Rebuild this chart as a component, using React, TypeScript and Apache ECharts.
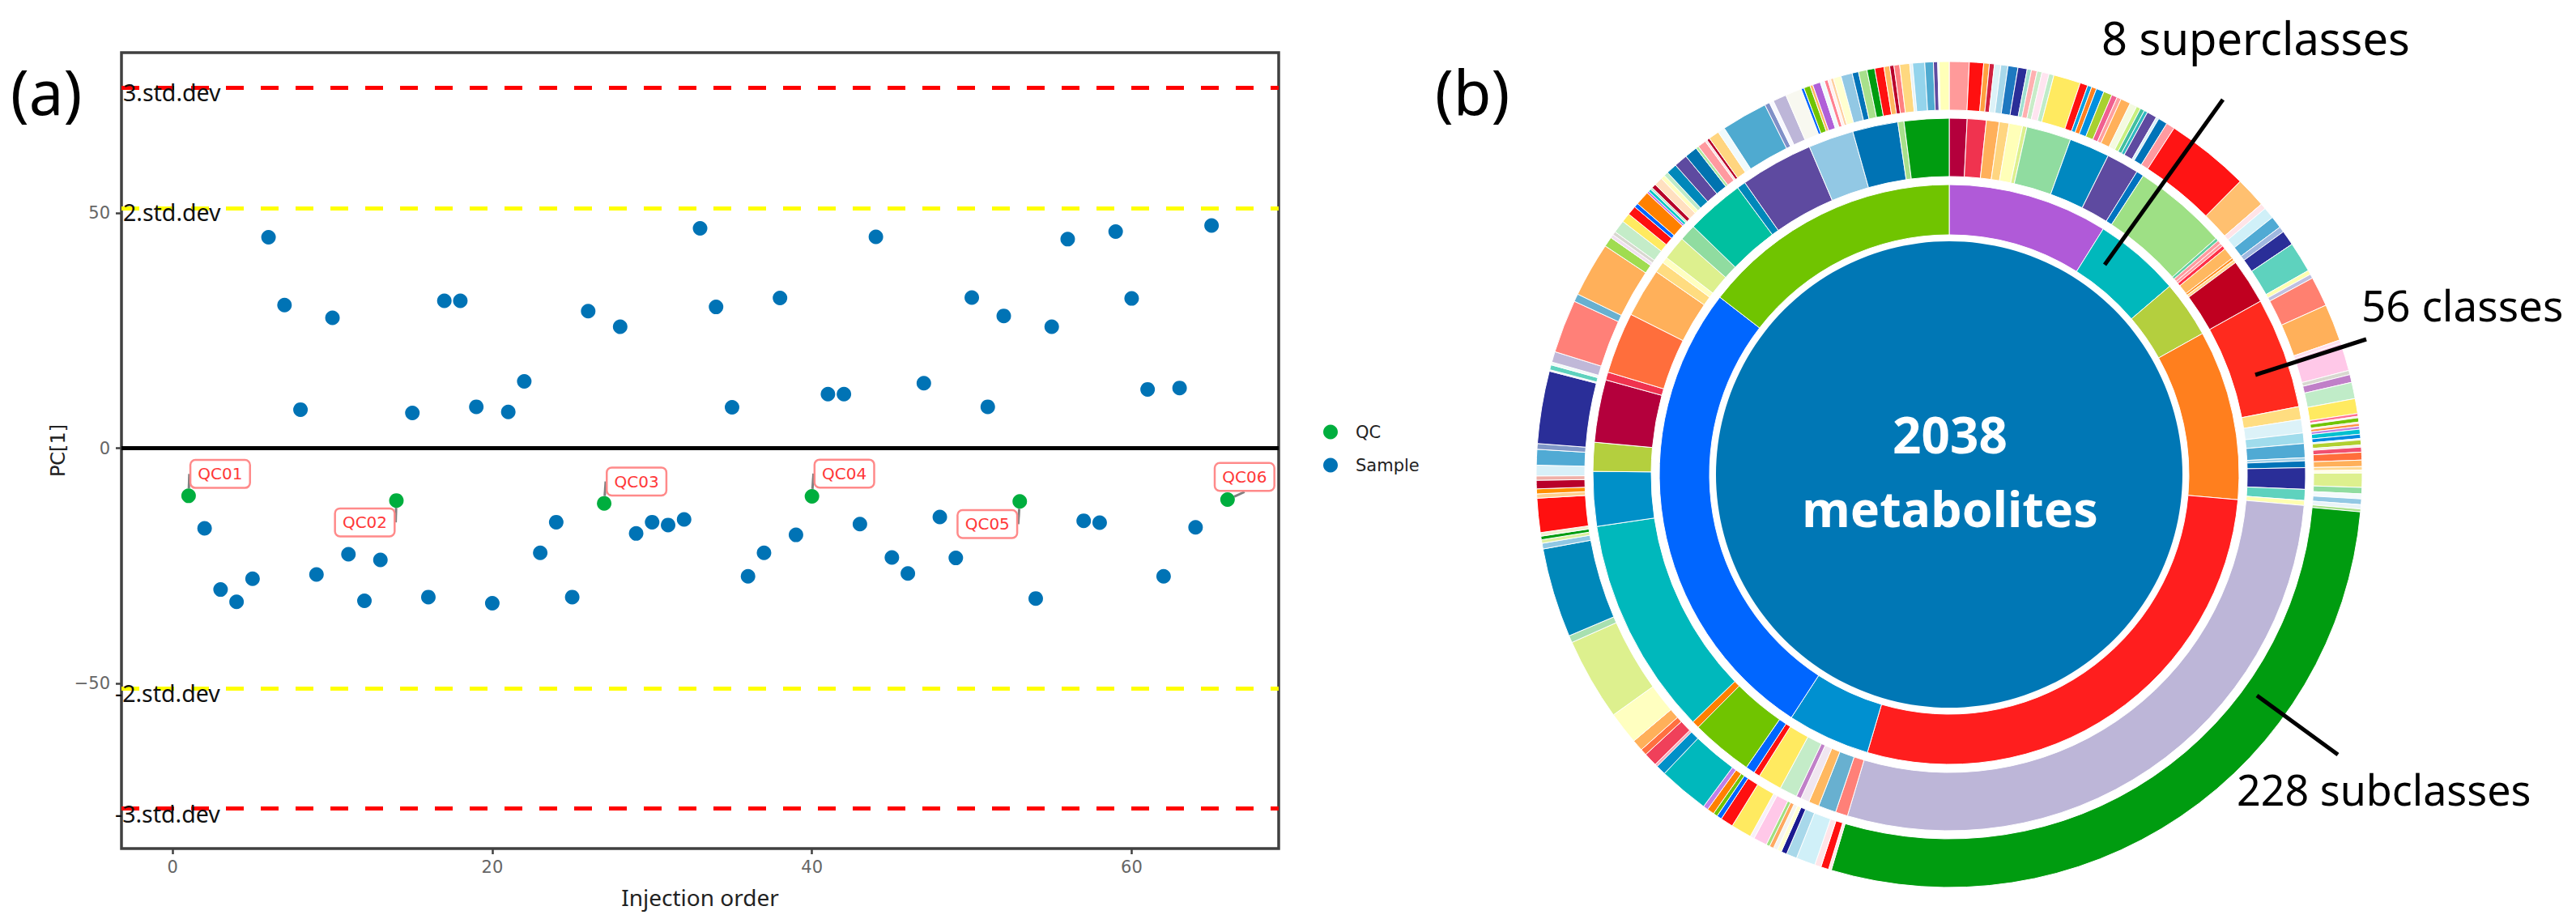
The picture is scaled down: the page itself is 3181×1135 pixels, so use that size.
import React, { useEffect, useRef } from "react";
import * as echarts from "echarts";

const sampleOrder = [2,3,4,5,6,7,8,9,10,11,12,13,15,16,17,18,19,20,21,22,23,24,25,26,28,29,30,31,32,33,34,35,36,37,38,39,41,42,43,44,45,46,47,48,49,50,51,52,54,55,56,57,58,59,60,61,62,63,64,65];
const sampleValues = [-17.0,-30.0,-32.6,-27.7,44.8,30.4,8.2,-26.8,27.7,-22.5,-32.4,-23.7,7.5,-31.6,31.3,31.3,8.8,-32.9,7.7,14.2,-22.2,-15.7,-31.6,29.1,25.8,-18.1,-15.7,-16.3,-15.1,46.7,30.0,8.7,-27.2,-22.2,31.9,-18.4,11.5,11.5,-16.1,44.9,-23.2,-26.6,13.8,-14.6,-23.3,32.0,8.8,28.1,-31.9,25.8,44.4,-15.4,-15.8,46.0,31.8,12.5,-27.2,12.8,-16.8,47.3];
const qcOrder = [1,14,27,40,53,66];
const qcValues = [-10.1,-11.1,-11.7,-10.2,-11.3,-10.9];
const qcNames = ["QC01","QC02","QC03","QC04","QC05","QC06"];
const qcLabelShift = [[39,-27],[-39,27],[40,-27],[40,-28],[-40,28],[21,-28]];

const limitValues = [76.5,51,-51,-76.5];
const limitColors = ["#ff0000","#ffff00","#ffff00","#ff0000"];
const limitNames = ["3.std.dev","2.std.dev","-2.std.dev","-3.std.dev"];
const limitLabelShift = [[0,5],[0,5],[-10,6],[-10,6]];
const limitLabelX = -3.1;
const xTicks = [0,20,40,60];
const yTicks = [-50,0,50];

const superclassEnds = [32.1,49.5,60.9,95,196.4,213,307.7,360];
const superclassColors = ["#B05AD8","#00B8BC","#B4CF3E","#FF7F1E","#FF1E1E","#0090D0","#0066FF","#70C400"];

const classEnds = [2.9,6,8.1,9.7,11.9,12.6,19.9,26.5,31.8,33,
  48.5,49,49.6,50.1,50.7,52.6,53,53.5,60.9,79,
  81.1,83.3,85,87.3,87.8,88.9,92.4,94.2,95,196.6,
  198.6,201.5,203.2,204.6,205.4,208.3,212.2,213.2,214.7,224.8,
  226,261.6,270.5,275.2,285.4,286.7,296.7,304.7,306.5,307.5,
  311.4,314.1,323.6,325,336.9,344.3,351.7,352.7,360];
const classColors = ["#B4003C","#F0334F","#FFB05A","#FFD580","#FFFFB8","#DDF08E","#90DCA0","#0088C0","#5E4AA0","#0073C0",
  "#9EE085","#60D0A0","#FF9AA0","#FF9AA0","#FF3048","#FFB860","#FF9020","#FFD890","#C00020","#FF2A1E",
  "#FFDD80","#DCF2F8","#A0DCEC","#50AAD4","#A0D0E8","#0073B8","#2A2E98","#5ED2BE","#FFFFB0","#BDB6D8",
  "#FF8078","#68B0D0","#FFB860","#F0E6F0","#C080C8","#C4ECC8","#FFEA60","#FF1010","#0066FF","#70C400",
  "#FF8000","#00B8BC","#0090C8","#B4CF3E","#B4003C","#F0334F","#FF6E3C","#FFB05A","#FFDC80","#FFFFC0",
  "#DDF08E","#90DCA0","#00C0A0","#0088BA","#5E4AA0","#92C8E4","#0073B4","#A8E08C","#009C10"];

const subclassEnds = [2.8,4.8,5.6,6.3,7.2,8.2,9.6,10.9,
  11.5,12.3,13,14,14.7,18.5,19.6,20.2,
  20.9,22,23.2,24,24.6,26,27,27.6,
  28.2,28.7,30.1,30.5,31.8,33,44.8,49.1,
  49.9,51.5,53.2,54,56.1,60.4,61,61.6,
  65.8,71,71.5,75.4,76,77.1,79.4,81.5,
  81.9,82.1,82.7,82.9,83.3,83.7,84.4,85,
  85.2,85.9,86.2,86.9,88,88.9,89.4,89.8,
  91.8,92.7,93.4,94.2,94.8,95.2,196.6,197,
  198.1,199,201.7,203.2,204,204.6,205.2,205.8,
  206.3,208.2,208.8,211.7,213.5,214.2,214.8,215.8,
  216.5,223.6,225,225.4,227.3,228.2,229.8,234.4,
  246,247,259.6,260.4,260.9,261.4,261.9,266.7,
  267.3,268,269.2,269.8,271.3,273.5,274.3,284.5,
  284.7,285.4,285.8,287.3,294.8,295.9,303.6,305,
  305.5,306,307.8,309.1,310.4,311,313,313.3,
  313.7,314,314.6,315.8,316.4,317,318.5,320.4,
  322.2,322.6,323.8,324.1,324.5,326,327,333.5,
  334.2,334.8,336.7,339,339.4,340.3,340.7,341.8,
  342.4,342.9,343.3,343.7,344.8,346.4,347.3,348.5,
  349.6,350.9,351.7,352.3,353.1,354.5,354.9,356.6,
  357.8,358.4,358.6,360];
const subclassColors = ["#FF9A9A","#FF1010","#FFA040","#D02040","#DCF2F8","#A8D8EA","#1E78C0","#2A2E98",
  "#A0E0D0","#FFB0B0","#C8ECC8","#FFE4F0","#C0ECC8","#FFEA60","#FF1010","#0AA0E0",
  "#FF8020","#0090E0","#A8D030","#F06090","#FFA0A0","#FFB05A","#F4FAE0","#C8F080",
  "#40C0A0","#30B8C0","#5E4AA0","#D8F0F8","#0073B8","#FF9AA0","#FF1414","#FFC070",
  "#FFE4E8","#D0F0F8","#50AAD4","#A0B8E0","#2A2E98","#5ED2BE","#FFFFB0","#C0C0E0",
  "#FF8070","#FFB05A","#FFE0F0","#FFC8E8","#D8D8D0","#C080C8","#C0ECC8","#FFEA60",
  "#FF7090","#F8E0E0","#70C400","#FFD0A0","#FF9040","#C080E0","#00C0D0","#0088E0",
  "#D8F0F8","#B0D030","#F0F0E0","#F05070","#FF6E3C","#FFB05A","#FFD890","#FFFFE0",
  "#DDF08E","#90DCA0","#F4FAFC","#92C8E4","#E8F4F8","#A8E08C","#009C10","#FFE8E8",
  "#FF1010","#FFE4E8","#D0F0F8","#A8D8EA","#1A1A90","#FFFFD0","#F4F4F0","#FFA860",
  "#A0E080","#FFC8E8","#F8F0F8","#FFEA60","#FF1010","#0066FF","#70C400","#FF8000",
  "#C080E8","#00B8BC","#0090C8","#F8B0C0","#F0405A","#FF7040","#FFB05A","#FFFFC0",
  "#DDF08E","#A8E0B0","#0088BA","#90C8E4","#DDF0A0","#009C10","#F0F0D0","#FF1010",
  "#FFD090","#FF9000","#B8002A","#F0B0A8","#D8F0F8","#50AAD4","#8098C8","#2A2E98",
  "#E8E8F0","#5ED2BE","#F0FAF8","#C0B8D8","#FF8078","#68B0D0","#FFB05A","#A0DC50",
  "#F0E0F0","#D8D8D0","#C4ECC8","#FFEA60","#FF1010","#0066FF","#FF8000","#C070E0",
  "#00C8C8","#C0ECC8","#B8002A","#FFE0C0","#FFFFC0","#C0ECC8","#0088BA","#5E4AA0",
  "#0073B0","#B0E8A0","#FF9AA0","#F8E0E0","#B8002A","#FFD580","#F0FAFC","#4FAAD0",
  "#8090C8","#F8F8FF","#BDB6D8","#F8F8F0","#0066FF","#70C400","#FFB860","#B060D8",
  "#F0FAFC","#FF8090","#FFF0F0","#FFD0A0","#FFFFD0","#92C8E4","#0073B8","#A8E08C",
  "#009C10","#FF1010","#FFB860","#B8002A","#FF8080","#FFD880","#E8F4F8","#94D4EC",
  "#4FAAD0","#5E4AA0","#F8F8FF","#FFFFB8"];

const totalMetabolites = 2038;
const AX = "#666";
const FRAME = "#404040";
const PLOT_FONT = "DejaVu Sans";
const TEXT_FONT = "Noto Sans";
const CENTER: [number, number] = [2407, 586];

function ring(ends: number[], colors: string[], radius: [number, number], name: string) {
  return {
    type: "pie",
    name,
    center: CENTER,
    radius,
    startAngle: 90,
    clockwise: true,
    silent: true,
    animation: false,
    avoidLabelOverlap: false,
    label: { show: false },
    labelLine: { show: false },
    itemStyle: { borderColor: "#fff", borderWidth: 1 },
    data: ends.map((end, i) => ({
      name: `${name} ${i + 1}`,
      value: +(end - (i ? ends[i - 1] : 0)).toFixed(2),
      itemStyle: { color: colors[i % colors.length] },
    })),
  };
}

function line(x1: number, y1: number, x2: number, y2: number) {
  return {
    type: "line",
    silent: true,
    z: 20,
    shape: { x1, y1, x2, y2 },
    style: { stroke: "#000", lineWidth: 5 },
  };
}

function words(text: string, x: number, y: number, size: number, fill = "#000", weight = "normal", align = "left") {
  return {
    type: "text",
    silent: true,
    z: 21,
    x,
    y,
    style: {
      text,
      fill,
      font: `${weight} ${size}px "${TEXT_FONT}", sans-serif`,
      textAlign: align,
      textVerticalAlign: "middle",
    },
  };
}

export default function App() {
  const ref = useRef<HTMLDivElement>(null);
  useEffect(() => {
    document.body.style.margin = "0";
    const chart = echarts.init(ref.current!, undefined, { renderer: "svg" });
    chart.setOption({
      animation: false,
      backgroundColor: "#fff",
      grid: {
        left: 150, top: 65, width: 1429, height: 983,
        show: true, borderColor: FRAME, borderWidth: 3.5, backgroundColor: "transparent",
      },
      xAxis: {
        type: "value", min: -3.2, max: 69.2,
        name: "Injection order", nameLocation: "middle", nameGap: 46,
        nameTextStyle: { fontFamily: TEXT_FONT, fontSize: 28, color: "#222" },
        splitLine: { show: false },
        axisLine: { show: false, onZero: false },
        axisTick: { show: true, length: 7, customValues: xTicks, lineStyle: { color: FRAME, width: 2.5 } },
        axisLabel: { customValues: xTicks, fontFamily: PLOT_FONT, fontSize: 21, color: AX, margin: 12 },
      },
      yAxis: {
        type: "value", min: -85, max: 84,
        name: "PC[1]", nameLocation: "middle", nameGap: 66, nameRotate: 90,
        nameTextStyle: { fontFamily: PLOT_FONT, fontSize: 24, color: "#222" },
        splitLine: { show: false },
        axisLine: { show: false, onZero: false },
        axisTick: { show: true, length: 7, customValues: yTicks, lineStyle: { color: FRAME, width: 2.5 } },
        axisLabel: {
          customValues: yTicks, fontFamily: PLOT_FONT, fontSize: 21, color: AX, margin: 14,
          formatter: (v: number) => String(v).replace("-", "\u2212"),
        },
      },
      legend: {
        orient: "vertical", left: 1634, top: 523, padding: 0,
        itemWidth: 18, itemHeight: 18, itemGap: 20, icon: "circle",
        selectedMode: false,
        data: ["QC", "Sample"],
        textStyle: { fontFamily: PLOT_FONT, fontSize: 21, color: "#222", padding: [0, 0, 0, 17] },
      },
      series: [
        {
          type: "scatter", name: "Sample", symbolSize: 18, z: 5,
          itemStyle: { color: "#0073B5", opacity: 1 },
          data: sampleOrder.map((x, i) => [x, sampleValues[i]]),
          markLine: {
            silent: true, symbol: ["none", "none"], animation: false,
            label: { show: false },
            data: [
              ...limitValues.map((v, i) => ({
                yAxis: v,
                lineStyle: { color: limitColors[i], width: 5, type: [22, 21], opacity: 1 },
              })),
              { yAxis: 0, lineStyle: { color: "#000", width: 5, type: "solid", opacity: 1 } },
            ],
          },
        },
        {
          type: "scatter", name: "QC", symbolSize: 18, z: 6,
          itemStyle: { color: "#00AE3E", opacity: 1 },
          data: qcOrder.map((x, i) => ({ name: qcNames[i], value: [x, qcValues[i]] })),
          label: {
            show: true, formatter: "{b}", position: "inside",
            fontFamily: PLOT_FONT, fontSize: 20, color: "#FF3838",
            backgroundColor: "#fff", borderColor: "#FF8A8A", borderWidth: 2.5, borderRadius: 5,
            padding: [6, 8],
          },
          labelLine: { show: true, lineStyle: { color: "#808080", width: 3 } },
          labelLayout: (p: any) => ({ dx: qcLabelShift[p.dataIndex][0], dy: qcLabelShift[p.dataIndex][1] }),
        },
        {
          type: "scatter", name: "limit labels", symbolSize: 0, z: 7, silent: true, clip: false,
          itemStyle: { opacity: 1 },
          data: limitNames.map((n, i) => ({
            name: n,
            value: [limitLabelX, limitValues[i]],
            label: { offset: limitLabelShift[i] },
          })),
          label: {
            show: true, formatter: "{b}", position: "right", distance: 0,
            fontFamily: TEXT_FONT, fontSize: 28.5, color: "#111",
          },
        },
        ring(superclassEnds, superclassColors, [296, 358], "superclass"),
        ring(classEnds, classColors, [368, 440], "class"),
        ring(subclassEnds, subclassColors, [450, 510], "subclass"),
        {
          type: "pie", name: "metabolites", center: CENTER, radius: [0, 288], silent: true,
          label: { show: false }, labelLine: { show: false },
          data: [{ name: "metabolites", value: totalMetabolites, itemStyle: { color: "#0077B5" } }],
        },
      ],
      graphic: [
        words("(a)", 13, 112, 76),
        words("(b)", 1772, 112, 76),
        words(String(totalMetabolites), 2408, 536, 62, "#fff", "bold", "center"),
        words("metabolites", 2408, 627, 61, "#fff", "bold", "center"),
        words("8 superclasses", 2595, 46, 56),
        words("56 classes", 2916, 376, 53),
        words("228 subclasses", 2762, 974, 52),
        line(2745, 123, 2599, 327),
        line(2922, 419, 2785, 463),
        line(2787, 859, 2887, 932),
      ],
    });
    return () => chart.dispose();
  }, []);
  return <div ref={ref} style={{ position: "absolute", left: 0, top: 0, width: 3181, height: 1135 }} />;
}
